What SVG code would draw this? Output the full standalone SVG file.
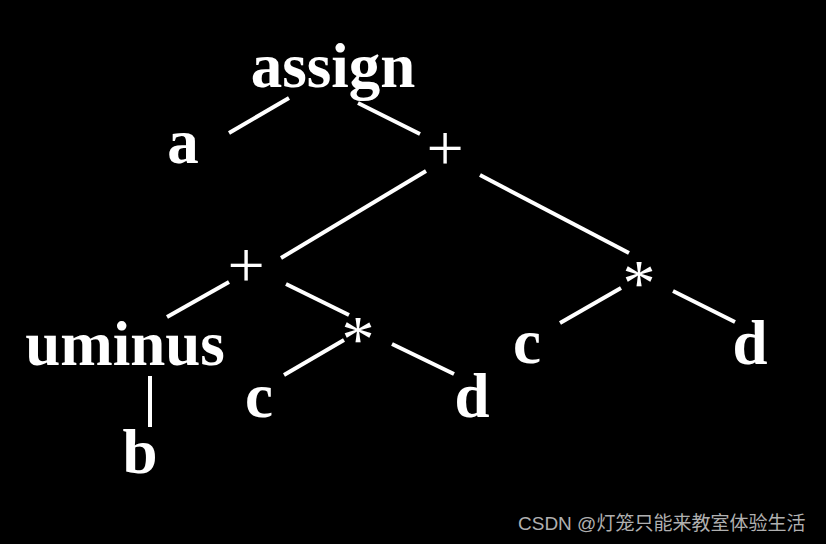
<svg xmlns="http://www.w3.org/2000/svg" width="826" height="544" viewBox="0 0 826 544">
<style>
.n{font-family:"Liberation Serif","Times New Roman",serif;font-weight:bold;font-size:63px;fill:#fff;text-anchor:middle}
.o{font-family:"Liberation Serif","Times New Roman",serif;font-size:66px;fill:#fff;text-anchor:middle}
.e line{stroke:#fff;stroke-width:4;stroke-linecap:butt}
.wm{font-family:"Liberation Sans","Noto Sans CJK SC",sans-serif;font-size:19px;fill:#b0b0b0}
</style>
<rect width="826" height="544" fill="#000"/>
<g class="e" id="connectors">
<line x1="289" y1="98" x2="229" y2="133"/>
<line x1="358" y1="103" x2="420" y2="134"/>
<line x1="426" y1="171" x2="281" y2="258"/>
<line x1="480" y1="175" x2="629" y2="253"/>
<line x1="229" y1="282" x2="167" y2="317"/>
<line x1="286" y1="284" x2="349" y2="315"/>
<line x1="150" y1="376" x2="150" y2="427"/>
<line x1="344" y1="340" x2="284" y2="375"/>
<line x1="392" y1="344" x2="454" y2="374"/>
<line x1="621" y1="288" x2="560" y2="323"/>
<line x1="673" y1="291" x2="735" y2="322"/>
</g>
<g id="assign"><text class="n" x="333" y="87">assign</text></g>
<g id="a"><text class="n" x="183" y="163">a</text></g>
<g id="plus1"><text class="o" x="445" y="170">+</text></g>
<g id="plus2"><text class="o" x="246" y="287">+</text></g>
<g id="mul2"><text class="o" x="639" y="305">*</text></g>
<g id="uminus"><text class="n" x="125" y="365">uminus</text></g>
<g id="mul1"><text class="o" x="358" y="361">*</text></g>
<g id="c2"><text class="n" x="527" y="363">c</text></g>
<g id="d2"><text class="n" x="750" y="364">d</text></g>
<g id="c1"><text class="n" x="259" y="417">c</text></g>
<g id="d1"><text class="n" x="472" y="417">d</text></g>
<g id="b"><text class="n" x="140" y="473">b</text></g>
<text class="wm" x="518" y="530">CSDN @灯笼只能来教室体验生活</text>
</svg>
